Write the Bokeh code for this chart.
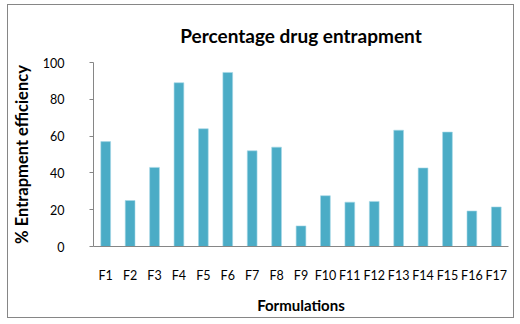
from bokeh.plotting import figure
from bokeh.models import ColumnDataSource, Title, FixedTicker
from bokeh.embed import file_html
from bokeh.resources import INLINE

formulations = ["F1", "F2", "F3", "F4", "F5", "F6", "F7", "F8", "F9", "F10",
                "F11", "F12", "F13", "F14", "F15", "F16", "F17"]
entrapment = [57, 25, 43, 89, 64, 94.6, 52, 54, 11.2, 27.6,
              24.1, 24.5, 63.2, 42.7, 62.2, 19.3, 21.5]
y_ticks = [0, 20, 40, 60, 80, 100]

FONT = "Lato"
BAR = "#4BACC6"

src = ColumnDataSource(dict(x=formulations, top=entrapment))

p = figure(width=505, height=312, x_range=formulations, y_range=(0, 100),
           output_backend="svg", toolbar_location=None,
           min_border_left=81, min_border_right=5, min_border_top=56,
           min_border_bottom=71)
p.margin = (5, 0, 0, 8)
p.styles = {"outline": "1px solid #868686"}

p.vbar(x="x", top="top", width=0.4, source=src, fill_color=BAR,
       line_color="#A6D9E8", line_width=0.6)

p.add_layout(Title(text="Percentage drug entrapment", align="center",
                   text_font=FONT, text_font_size="19px", text_font_style="bold",
                   text_color="#000000", text_line_height=0.9,
                   offset=10, standoff=32), "above")

p.xaxis.axis_label = "Formulations"
p.yaxis.axis_label = "% Entrapment efficiency"
for ax in (p.xaxis[0], p.yaxis[0]):
    ax.axis_label_text_font = FONT
    ax.axis_label_text_font_style = "bold"
    ax.axis_label_text_font_size = "15px"
    ax.axis_label_text_color = "#000000"
    ax.major_label_text_font = FONT
    ax.major_label_text_font_size = "12.5px"
    ax.major_label_text_color = "#000000"
    ax.axis_line_color = "#868686"
    ax.major_tick_line_color = "#868686"
    ax.minor_tick_line_color = None

p.yaxis.axis_label_text_font_size = "16.5px"
p.yaxis.ticker = FixedTicker(ticks=y_ticks)
p.yaxis.major_tick_out = 4
p.yaxis.major_tick_in = 0
p.yaxis.major_label_standoff = 25
p.yaxis.axis_label_standoff = 8
p.xaxis.major_tick_line_color = None
p.xaxis.major_label_standoff = 15
p.xaxis.axis_label_standoff = 10

p.xgrid.grid_line_color = None
p.ygrid.grid_line_color = None
p.outline_line_color = None
p.x_range.range_padding = 0

open("out.html", "w").write(file_html(p, INLINE))
